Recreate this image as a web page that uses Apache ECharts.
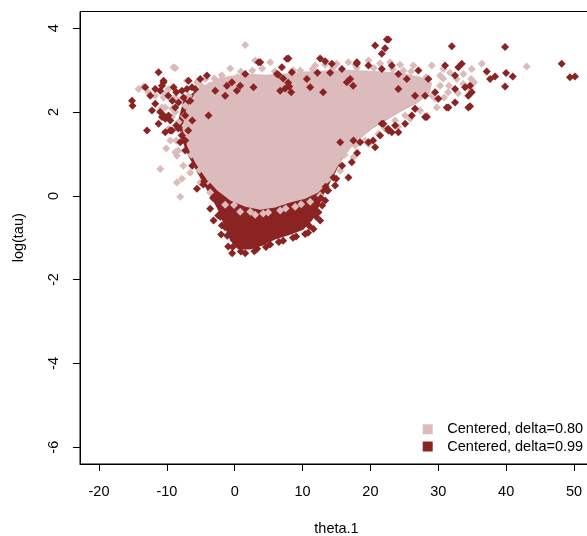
<!DOCTYPE html>
<html>
<head>
<meta charset="utf-8">
<script src="https://cdn.jsdelivr.net/npm/echarts@6/dist/echarts.min.js"></script>
<style>
html,body{margin:0;padding:0;background:#fff;}
#c{width:587px;height:536px;}
</style>
</head>
<body>
<div id="c"></div>
<script>
// ---- data ----
const seriesNames = ['Centered, delta=0.80', 'Centered, delta=0.99'];
const xTicks = [-20, -10, 0, 10, 20, 30, 40, 50];
const yTicks = [-6, -4, -2, 0, 2, 4];

// outline of the densely filled part of each cloud (theta.1, log(tau))
const pinkCore = [[-7.73,1.61],[-7.14,2.08],[-5.82,2.47],[-3.90,2.70],[-1.40,2.84],[1.55,2.92],[4.49,2.89],[7.44,2.92],[10.38,2.97],[13.33,2.99],[16.27,3.01],[19.22,2.99],[22.16,2.97],[25.11,2.92],[27.32,2.84],[29.09,2.70],[28.79,2.47],[27.02,2.23],[24.67,2.04],[22.61,1.84],[20.25,1.61],[18.48,1.37],[17.01,1.13],[15.83,0.89],[14.80,0.60],[13.77,0.32],[12.30,0.08],[10.38,-0.07],[8.17,-0.16],[5.96,-0.28],[3.76,-0.33],[1.55,-0.26],[-0.66,-0.11],[-2.58,0.13],[-4.34,0.44],[-5.82,0.79],[-7.0,1.18]];
const darkCore = [[-8.32,1.80],[-7.58,2.27],[-5.82,2.50],[-3.90,2.65],[-1.40,2.80],[1.55,2.88],[4.49,2.85],[7.44,2.88],[10.38,2.93],[13.33,2.95],[16.27,2.97],[19.22,2.95],[22.16,2.93],[25.11,2.88],[27.32,2.80],[28.9,2.62],[28.6,2.45],[26.9,2.22],[24.6,2.03],[22.5,1.83],[20.2,1.60],[18.4,1.36],[16.9,1.12],[15.8,0.87],[14.9,0.58],[14.0,0.30],[13.03,0.01],[12.30,-0.30],[11.41,-0.59],[10.09,-0.81],[8.17,-0.93],[5.96,-1.04],[4.05,-1.19],[2.28,-1.28],[0.52,-1.28],[-0.66,-1.07],[-1.55,-0.71],[-2.58,-0.30],[-4.05,0.13],[-5.52,0.56],[-6.85,0.96],[-7.88,1.37]];

// individual points around the edges of each cloud
const pinkPoints = [[1.55,3.60],[3.02,3.23],[5.23,3.19],[-9.01,3.07],[-10.97,0.64],[-8.03,-0.02],[-8.51,0.32],[-7.78,0.41],[-14.17,2.55],[-13.43,2.61],[-10.49,2.35],[-10.97,2.04],[-9.25,1.56],[-8.76,1.04],[-8.51,0.96],[-8.76,3.05],[-9.75,2.55],[-10.72,2.11],[-9.25,1.88],[-8.28,1.76],[-9.75,1.60],[-7.04,2.75],[-5.57,2.71],[-4.34,2.79],[-2.14,2.75],[0.32,2.83],[-10.24,2.11],[-6.30,2.08],[-8.76,2.00],[-6.80,2.39],[-8.76,2.35],[36.41,3.15],[43.03,3.09],[34.93,3.03],[35.27,2.71],[34.83,2.79],[21.18,1.48],[19.71,1.24],[17.50,0.92],[15.54,0.60],[14.06,0.53],[29.04,3.11],[26.33,3.11],[24.86,2.99],[22.90,3.19],[19.71,3.23],[16.76,3.19],[15.05,3.15],[11.86,3.11],[9.65,2.99],[29.78,2.11],[28.31,1.92],[27.32,2.04],[33.70,2.67],[34.68,2.55],[32.72,2.79],[30.75,3.03],[33.70,2.91],[35.17,2.71],[30.27,2.63],[31.44,2.47],[30.71,2.80],[29.53,2.33],[25.85,1.84],[24.08,1.65],[-0.66,3.04],[4.05,3.04],[13.33,3.13],[17.75,3.13],[21.43,3.16],[24.37,3.13],[-8.62,1.32],[-8.32,1.08],[-7.58,0.72],[-6.55,0.55],[-5.08,0.32],[-3.61,0.08],[-7.29,1.68],[-1.40,-0.21],[0.81,-0.38],[3.02,-0.45],[4.93,-0.40],[6.70,-0.35],[8.91,-0.26],[11.12,-0.14],[12.59,0.01],[28.06,2.63],[29.09,2.39],[27.32,2.47],[26.14,2.33],[30.27,2.87],[31.74,2.94],[32.92,2.45],[30.86,2.35],[31.59,2.63],[-7.29,2.15],[17.75,1.20],[19.22,1.32],[22.16,1.60],[23.64,1.80],[25.11,1.92],[26.58,2.08],[-10.24,2.43],[-9.20,2.08],[-8.03,2.27],[-11.71,2.39],[-12.74,2.47],[-9.50,1.32],[-10.09,1.13],[15.24,0.84],[16.2,0.98],[13.9,0.42],[-3.0,2.80],[-1.9,2.88],[0.9,2.97],[2.6,2.99],[5.9,2.97],[8.6,3.00],[11.5,3.03],[14.5,3.06],[18.0,3.06],[20.5,3.05],[23.3,3.02],[26.0,2.97],[28.2,2.83],[-7.9,1.45],[-7.5,1.90],[-6.6,2.30],[-4.9,2.62],[-6.4,0.98],[-5.2,0.62],[-4.0,0.35],[2.3,-0.38],[4.2,-0.42],[7.5,-0.30],[9.8,-0.20],[-0.1,-0.22]];
const darkPoints = [[-15.14,2.27],[-15.05,2.15],[-13.18,2.59],[-12.93,1.56],[-11.71,2.55],[-11.71,2.20],[-12.19,2.04],[-11.22,2.95],[-10.49,2.71],[-10.72,2.63],[-9.01,2.59],[-10.97,2.00],[-10.72,1.88],[-10.24,1.84],[-11.22,1.72],[-9.75,1.92],[-10.24,1.52],[-9.25,1.56],[-7.78,1.44],[-8.03,1.28],[-8.76,2.11],[-8.28,2.23],[-7.54,2.35],[-7.78,2.51],[-7.04,2.55],[-6.30,2.59],[-5.82,2.55],[-5.08,2.79],[-4.09,2.87],[-6.80,2.75],[-7.29,1.92],[-3.86,1.92],[-1.15,2.63],[-1.40,2.39],[-2.87,2.51],[0.32,2.51],[-0.41,2.71],[3.51,3.19],[7.92,3.28],[12.59,3.28],[13.33,3.21],[14.32,3.15],[15.79,3.03],[18.00,3.15],[1.55,2.91],[6.95,3.07],[6.45,2.89],[8.42,2.95],[7.14,2.80],[7.88,2.70],[7.44,2.56],[8.32,2.47],[6.70,2.51],[8.03,2.61],[10.63,2.79],[11.12,2.59],[12.19,2.94],[14.06,2.94],[13.03,2.47],[17.01,2.79],[17.45,2.63],[16.52,2.71],[2.77,2.59],[0.81,2.63],[15.54,1.28],[22.65,3.73],[22.42,3.73],[20.69,3.59],[22.17,3.52],[21.68,3.39],[31.99,3.57],[18.00,3.19],[19.71,3.11],[21.68,3.03],[23.15,3.11],[24.12,2.91],[27.07,2.99],[28.54,2.79],[31.00,3.11],[33.46,3.15],[32.96,3.07],[32.47,2.87],[32.47,2.55],[33.95,2.59],[34.43,2.39],[31.49,2.11],[32.47,2.23],[34.43,2.11],[30.01,2.32],[29.53,2.47],[28.06,2.39],[26.58,2.08],[28.06,1.88],[26.10,1.92],[25.11,1.72],[23.64,1.68],[22.65,1.56],[21.68,1.72],[21.43,1.44],[19.71,1.28],[24.12,2.55],[25.36,2.79],[26.58,2.39],[39.84,3.55],[48.19,3.15],[49.41,2.83],[50.15,2.85],[37.14,2.97],[37.63,2.79],[38.37,2.85],[39.99,2.93],[40.97,2.85],[39.84,2.61],[34.68,2.63],[34.93,2.47],[34.68,2.14],[17.26,0.80],[14.80,0.25],[16.76,0.44],[14.55,0.44],[13.33,-0.11],[12.34,-0.39],[11.61,-0.79],[10.38,-0.91],[12.59,-0.59],[20.69,1.16],[24.12,1.52],[23.15,1.52],[17.50,1.32],[18.48,1.28],[21.91,1.72],[31.25,2.11],[28.31,1.88],[7.69,3.27],[6.22,2.91],[3.76,3.19],[-3.12,-0.59],[-3.61,-0.31],[-5.57,0.17],[-1.89,-0.71],[-1.40,-0.75],[-10.49,2.75],[-10.49,1.92],[-9.50,1.56],[-0.37,-1.37],[1.55,-1.37],[3.31,-1.26],[5.23,-1.16],[7.14,-1.07],[9.06,-0.97],[10.82,-0.88],[-0.96,-1.21],[-1.99,-0.92],[-2.43,-0.47],[-4.64,0.27],[-6.26,0.72],[-7.29,1.08],[12.89,-0.23],[13.77,0.13],[-6.55,2.27],[-6.26,1.80],[-6.85,1.56],[-8.62,1.68],[-12.44,2.39],[-9.79,2.39],[-9.20,2.27],[-8.62,2.47],[-9.50,1.80],[-8.32,1.61],[-10.97,2.51],[-7.29,1.32],[15.83,0.72],[14.95,0.41],[13.62,0.13],[18.04,1.02],[20.40,1.32],[22.61,1.60],[-2.1,-0.50],[-1.1,-0.95],[-3.2,-0.05],[-4.5,0.35],[-0.3,-1.22],[0.9,-1.33],[2.9,-1.32],[4.6,-1.22],[6.5,-1.10],[8.6,-1.00],[11.0,-0.72],[12.0,-0.50],[12.7,-0.05],[13.4,0.22]];

// ---- styling ----
const PINK = '#DBBBBB';
const DARK = '#8B2323';
const FONT = '"Liberation Sans", Arial, sans-serif';
const FS = 14.5;

function coreSeries(name, outline, color, z) {
  return {
    type: 'custom', name: name, z: z, silent: true, clip: true,
    data: [outline[0]],
    renderItem: function (params, api) {
      return {
        type: 'polygon',
        shape: { points: outline.map(function (p) { return api.coord(p); }) },
        style: { fill: color }
      };
    }
  };
}
function pointSeries(name, pts, color, z) {
  return {
    type: 'scatter', name: name, z: z, silent: true,
    symbol: 'diamond', symbolSize: 8,
    itemStyle: { color: color, opacity: 1 },
    data: pts
  };
}

const chart = echarts.init(document.getElementById('c'), null, { renderer: 'canvas' });
chart.setOption({
  animation: false,
  backgroundColor: '#fff',
  textStyle: { fontFamily: FONT },
  grid: { left: 80, right: -6, top: 11.5, bottom: 72, outerBoundsMode: 'none', containLabel: false,
          show: true, borderColor: '#000', borderWidth: 1, backgroundColor: 'transparent' },
  xAxis: {
    type: 'value', min: -22.8, max: 52.8,
    name: 'theta.1', nameLocation: 'middle', nameGap: 57,
    nameTextStyle: { fontSize: FS, color: '#000', fontFamily: FONT },
    axisLine: { show: true, onZero: false, lineStyle: { color: '#000', width: 1 } },
    axisTick: { show: true, customValues: xTicks, length: 7, inside: false, lineStyle: { color: '#000' } },
    axisLabel: { customValues: xTicks, fontSize: FS, color: '#000', margin: 20.5, fontFamily: FONT },
    splitLine: { show: false }
  },
  yAxis: {
    type: 'value', min: -6.4, max: 4.4,
    name: 'log(tau)', nameLocation: 'middle', nameGap: 54, nameRotate: 90,
    nameTextStyle: { fontSize: FS, color: '#000', fontFamily: FONT },
    axisLine: { show: true, onZero: false, lineStyle: { color: '#000', width: 1 } },
    axisTick: { show: true, customValues: yTicks, length: 7, inside: false, lineStyle: { color: '#000' } },
    axisLabel: { customValues: yTicks, fontSize: FS, color: '#000', rotate: 90, margin: 19, fontFamily: FONT },
    splitLine: { show: false }
  },
  legend: {
    orient: 'vertical', left: 417.7, top: 416.8,
    itemWidth: 10, itemHeight: 10, itemGap: 2.2,
    selectedMode: false,
    textStyle: { fontSize: FS, color: '#000', fontFamily: FONT, padding: [0, 0, 0, 9.6] },
    data: [
      { name: seriesNames[0], icon: 'rect', itemStyle: { color: PINK } },
      { name: seriesNames[1], icon: 'rect', itemStyle: { color: DARK } }
    ]
  },
  series: [
    coreSeries(seriesNames[1], darkCore, DARK, 1),
    coreSeries(seriesNames[0], pinkCore, PINK, 2),
    pointSeries(seriesNames[0], pinkPoints, PINK, 3),
    pointSeries(seriesNames[1], darkPoints, DARK, 4)
  ]
});
</script>
</body>
</html>
